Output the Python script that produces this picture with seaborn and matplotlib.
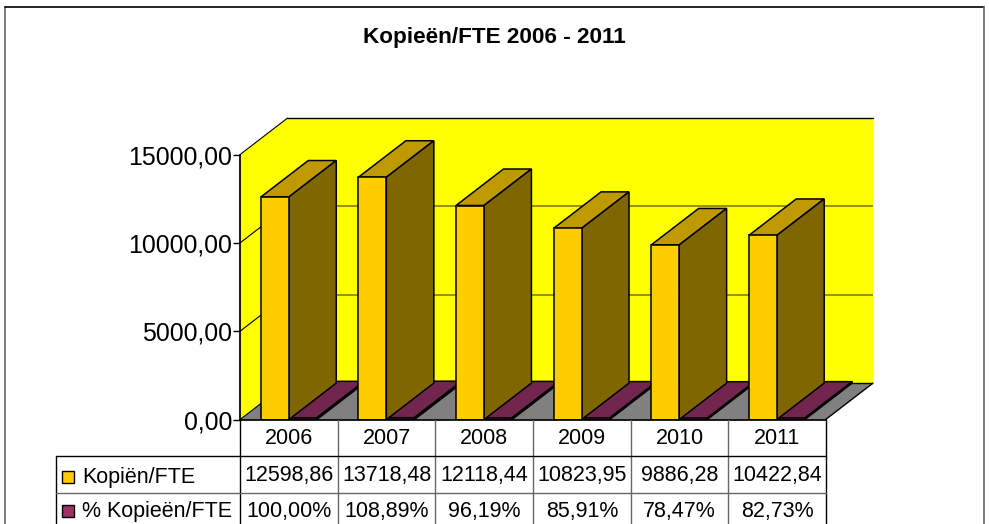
import matplotlib
matplotlib.use("Agg")
import matplotlib.pyplot as plt
import pandas as pd
import seaborn as sns
from matplotlib.patches import Polygon, Rectangle

years = ["2006", "2007", "2008", "2009", "2010", "2011"]
kopien_fte = [12598.86, 13718.48, 12118.44, 10823.95, 9886.28, 10422.84]
pct_kopieen = [100.00, 108.89, 96.19, 85.91, 78.47, 82.73]
series_names = ["Kopiën/FTE", "% Kopieën/FTE"]
y_ticks = [0, 5000, 10000, 15000]

W, H = 989, 524
X0, X1 = 240, 873      # axes extent in pixels, including the 3d depth
Y0, Y15 = 419.6, 154.6 # pixel rows of 0 and 15000
DEPTH_PX = (47.5, 36.5)

sns.set_theme(style="white")
plt.rcParams["font.family"] = ["Liberation Sans", "DejaVu Sans"]

df = pd.DataFrame({
    "year": years * 2,
    "value": kopien_fte + pct_kopieen,
    "series": [series_names[0]] * 6 + [series_names[1]] * 6,
})

fig = plt.figure(figsize=(W / 100, H / 100), dpi=100, facecolor="white")
px_per_val = (Y0 - Y15) / 15000
cat_px = (826 - X0) / 6
dx = DEPTH_PX[0] / cat_px
dy = DEPTH_PX[1] / px_per_val
top_val = 15000 + dy

ax = fig.add_axes([X0 / W, (H - Y0) / H, (X1 - X0) / W, (Y0 - (Y15 - DEPTH_PX[1])) / H])
ax.patch.set_alpha(0)

colors = {series_names[0]: "#FFCC00", series_names[1]: "#993366"}
sns.barplot(data=df, x="year", y="value", hue="series", palette=colors, saturation=1,
            width=56 / cat_px, gap=0, edgecolor="black", linewidth=1.1, legend=False, ax=ax)
ax.set_xlim(-0.5, 5.5 + dx)
ax.set_ylim(0, top_val)

# walls and floor
ax.add_patch(Polygon([(-0.5, 0), (-0.5, 15000), (-0.5 + dx, top_val), (-0.5 + dx, dy)],
                     fc="#FFFF00", ec="none", zorder=0.5))
ax.add_patch(Rectangle((-0.5 + dx, dy), 6, 15000, fc="#FFFF00", ec="none", zorder=0.5))
ax.add_patch(Polygon([(-0.5, 0), (5.5, 0), (5.5 + dx, dy), (-0.5 + dx, dy)],
                     fc="#808080", ec="none", zorder=0.6))
ax.plot([-0.5 + dx, 5.5 + dx], [dy, dy], color="black", lw=1, zorder=0.7)
ax.plot([5.5, 5.5 + dx], [0, dy], color="black", lw=1, zorder=0.7, clip_on=False)
ax.plot([-0.5 + dx, 5.5 + dx], [top_val, top_val], color="black", lw=1, zorder=0.7, clip_on=False)
for v in y_ticks:
    ax.plot([-0.5, -0.5 + dx], [v, v + dy], color="black", lw=0.8, zorder=0.7, clip_on=False)
    if 0 < v < 15000:
        ax.plot([-0.5 + dx, 5.5 + dx], [v + dy, v + dy], color="#808000", lw=1.2, zorder=0.7)


def shade(hex_color, f):
    r, g, b = matplotlib.colors.to_rgb(hex_color)
    return (r * f, g * f, b * f)


# extrude every bar backwards, drawn left to right so nearer bars cover older ones
for s, container in enumerate(ax.containers):
    base = colors[series_names[s]]
    for i, bar in enumerate(container):
        z = 3 + i + (0.5 if s == 0 else 0)
        x, w, h = bar.get_x(), bar.get_width(), bar.get_height()
        bar.set_zorder(z + 0.02)
        ax.add_patch(Polygon([(x, h), (x + w, h), (x + w + dx, h + dy), (x + dx, h + dy)],
                             fc=shade(base, 0.75), ec="black", lw=1.1, zorder=z))
        ax.add_patch(Polygon([(x + w, 0), (x + w + dx, dy), (x + w + dx, h + dy), (x + w, h)],
                             fc=shade(base, 0.5), ec="black", lw=1.1, zorder=z))

for side in ["top", "right"]:
    ax.spines[side].set_visible(False)
ax.spines["left"].set_bounds(0, 15000)
ax.spines["left"].set_color("black")
ax.spines["bottom"].set_bounds(-0.5, 5.5)
ax.spines["bottom"].set_color("black")
ax.spines["bottom"].set_zorder(20)
ax.set_xlabel("")
ax.set_ylabel("")
ax.set_xticks([])
ax.set_yticks(y_ticks)
ax.set_yticklabels([f"{v},00" for v in y_ticks], fontsize=17.9, color="black")
ax.tick_params(axis="y", left=True, length=5, width=1, color="black", pad=0.5)

# overlay in pixel coordinates for frame, title and the data table
ov = fig.add_axes([0, 0, 1, 1], zorder=5)
ov.set_xlim(0, W)
ov.set_ylim(H, 0)
ov.axis("off")
ov.patch.set_alpha(0)

ov.plot([4.5, 4.5], [7, H], color="#666666", lw=1.2)
ov.plot([4.5, 984], [7, 7], color="black", lw=1.2)
ov.plot([984, 984], [7, H], color="#666666", lw=1.2)

ov.text(494, 38, "Kopieën/FTE 2006 - 2011", ha="center", va="center",
        fontsize=16.2, fontweight="bold", color="black")

col_x = [X0 + cat_px * i for i in range(7)]
rows_y = [419.6, 456, 492.5, H]
for i, x in enumerate(col_x):
    c = "black" if i in (0, 6) else "#666666"
    ov.plot([x, x], [rows_y[0], H], color=c, lw=1)
ov.plot([55.5, 55.5], [rows_y[1], H], color="black", lw=1)
ov.plot([55.5, col_x[-1]], [rows_y[1], rows_y[1]], color="black", lw=1)
ov.plot([55.5, col_x[-1]], [rows_y[2], rows_y[2]], color="#666666", lw=1)

for i, y in enumerate(years):
    xc = (col_x[i] + col_x[i + 1]) / 2
    ov.text(xc, 438, y, ha="center", va="center", fontsize=15.5, color="black")
    ov.text(xc, 476, f"{kopien_fte[i]:.2f}".replace(".", ","), ha="center", va="center",
            fontsize=15.5, color="black")
    ov.text(xc, 511, f"{pct_kopieen[i]:.2f}%".replace(".", ","), ha="center", va="center",
            fontsize=15.5, color="black")

for name, yc in zip(series_names, [477, 511]):
    ov.add_patch(Rectangle((61.5, yc - 6), 12, 12, fc=colors[name], ec="black", lw=1))
    ov.text(82, yc, name, ha="left", va="center", fontsize=15.5, color="black")

fig.savefig("out.png", dpi=100)
